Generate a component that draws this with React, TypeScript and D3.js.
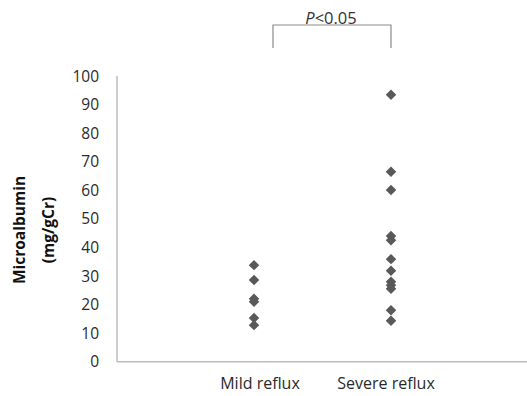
import { useEffect, useRef } from "react";
import * as d3 from "d3";

const categories = ["Mild reflux", "Severe reflux"];
const mildValues = [33.8, 28.6, 22, 21, 15.3, 12.8];
const severeValues = [93.4, 66.5, 60.1, 44, 42.5, 35.9, 31.8, 28, 26.8, 25.5, 18, 14.3];
const yTicks = [0, 10, 20, 30, 40, 50, 60, 70, 80, 90, 100];
const pLabel = "<0.05";

export default function App() {
  const svgRef = useRef<SVGSVGElement>(null);

  useEffect(() => {
    document.body.style.margin = "0";
    if (!svgRef.current) return;
    const width = 527;
    const svg = d3.select(svgRef.current);
    svg.selectAll("*").remove();

    const font = "'Open Sans', 'Noto Sans', sans-serif";

    const x = d3.scaleLinear().domain([0, 3]).range([117, 528]);
    const y = d3.scaleLinear().domain([0, 100]).range([361.7, 76]);

    // axes lines
    svg.append("line")
      .attr("x1", x(0)).attr("x2", x(0))
      .attr("y1", y(100)).attr("y2", y(0))
      .attr("stroke", "#bcbcbc").attr("stroke-width", 1.5);
    svg.append("line")
      .attr("x1", x(0)).attr("x2", width)
      .attr("y1", y(0)).attr("y2", y(0))
      .attr("stroke", "#bcbcbc").attr("stroke-width", 1.5);

    // y tick labels
    svg.append("g")
      .selectAll("text")
      .data(yTicks)
      .join("text")
      .attr("x", 99)
      .attr("y", d => y(d))
      .attr("dy", "0.36em")
      .attr("text-anchor", "end")
      .attr("font-family", font)
      .attr("font-size", 15.5)
      .attr("fill", "#2a2a2a")
      .text(d => d);

    // category labels
    svg.append("g")
      .selectAll("text")
      .data(categories)
      .join("text")
      .attr("x", (_, i) => x(i + 1) + (i === 0 ? 6 : -5))
      .attr("y", 389)
      .attr("text-anchor", "middle")
      .attr("font-family", font)
      .attr("font-size", 16)
      .attr("fill", "#2a2a2a")
      .text(d => d);

    // y axis title
    const title = svg.append("text")
      .attr("transform", "translate(0,230) rotate(-90)")
      .attr("text-anchor", "middle")
      .attr("font-family", font)
      .attr("font-size", 15.5)
      .attr("font-weight", "bold")
      .attr("fill", "#111");
    title.append("tspan").attr("x", 0).attr("y", 25).text("Microalbumin");
    title.append("tspan").attr("x", 0).attr("y", 54).text("(mg/gCr)");

    // points
    const diamond = d3.symbol().type(d3.symbolDiamond2).size(70);
    const pts = [
      ...mildValues.map(v => ({ c: 1, v })),
      ...severeValues.map(v => ({ c: 2, v })),
    ];
    svg.append("g")
      .selectAll("path")
      .data(pts)
      .join("path")
      .attr("transform", d => `translate(${x(d.c)},${y(d.v)})`)
      .attr("d", diamond()!)
      .attr("fill", "#595959");

    // significance bracket
    const bx1 = x(1) + 19;
    const bx2 = x(2);
    svg.append("path")
      .attr("d", `M${bx1},48V25H${bx2}V48`)
      .attr("fill", "none")
      .attr("stroke", "#8a8a8a")
      .attr("stroke-width", 1.2);
    const pt = svg.append("text")
      .attr("x", (bx1 + bx2) / 2 - 1)
      .attr("y", 24)
      .attr("text-anchor", "middle")
      .attr("font-family", font)
      .attr("font-size", 16.5)
      .attr("fill", "#333");
    pt.append("tspan").attr("font-style", "italic").text("P");
    pt.append("tspan").text(pLabel);
  }, []);

  return <svg ref={svgRef} width={527} height={396} style={{ display: "block" }} />;
}
